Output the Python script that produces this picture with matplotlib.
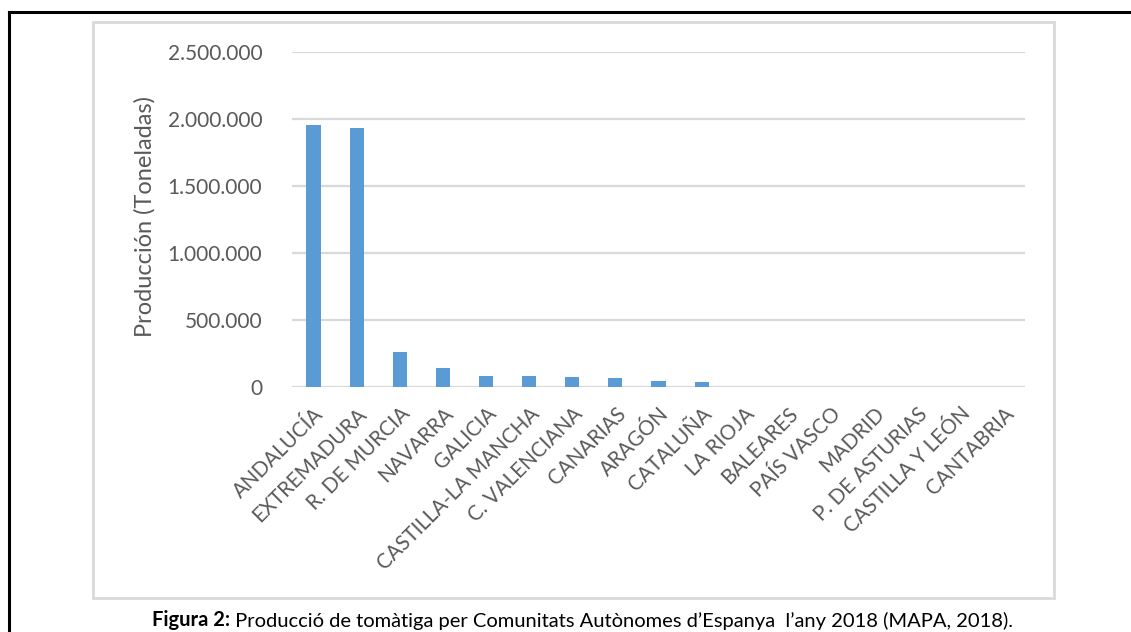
import matplotlib
matplotlib.use('Agg')
import matplotlib.pyplot as plt
from matplotlib.lines import Line2D
from matplotlib.patches import Rectangle
from matplotlib.ticker import FuncFormatter

comunidades = ['ANDALUCÍA', 'EXTREMADURA', 'R. DE MURCIA', 'NAVARRA', 'GALICIA',
               'CASTILLA-LA MANCHA', 'C. VALENCIANA', 'CANARIAS', 'ARAGÓN', 'CATALUÑA',
               'LA RIOJA', 'BALEARES', 'PAÍS VASCO', 'MADRID', 'P. DE ASTURIAS',
               'CASTILLA Y LEÓN', 'CANTABRIA']
produccion = [1955000, 1930000, 259000, 142000, 85000,
              84000, 75000, 65000, 47000, 37000,
              1500, 1200, 1000, 800, 300,
              200, 100]
y_ticks = [0, 500000, 1000000, 1500000, 2000000, 2500000]

W, H = 1131, 632
gris_texto = '#595959'
gris_linea = '#d9d9d9'

fig = plt.figure(figsize=(W / 100, H / 100), dpi=100)

def px(x, y):
    return x / W, 1 - y / H

# marco negro de la celda
fig.add_artist(Line2D([9 / W, 1], [1 - 12 / H] * 2, color='black', lw=2.2))
fig.add_artist(Line2D([9 / W] * 2, [1 - 12 / H, 0], color='black', lw=2.2))

# borde gris del gráfico
x0, y0 = px(93, 598)
x1, y1 = px(1054, 22)
fig.add_artist(Rectangle((x0, y0), x1 - x0, y1 - y0, transform=fig.transFigure,
                         fill=False, edgecolor=gris_linea, lw=2))

ax = fig.add_axes([292 / W, (H - 387) / H, 733 / W, 335 / H])
pos = range(len(comunidades))
ax.bar(pos, produccion, width=0.33, color='#5b9bd5', zorder=3)

ax.set_xlim(-0.5, len(comunidades) - 0.5)
ax.set_ylim(0, 2500000)
ax.set_yticks(y_ticks)
ax.yaxis.set_major_formatter(FuncFormatter(lambda v, p: f'{int(v):,}'.replace(',', '.')))
ax.grid(axis='y', color=gris_linea, lw=1.6, zorder=0)
for s in ax.spines.values():
    s.set_visible(False)
ax.tick_params(axis='both', length=0, colors=gris_texto)
ax.tick_params(axis='y', pad=21.5, labelsize=15)
for lab in ax.get_yticklabels():
    lab.set_family('Lato')

ax.set_xticks(list(pos))
ax.set_xticklabels(comunidades, rotation=45, ha='right', rotation_mode='anchor',
                   fontsize=14.8, family='Lato', color=gris_texto)
ax.tick_params(axis='x', pad=12)

ax.set_ylabel('Producción (Toneladas)', fontsize=17, family='Lato',
              color=gris_texto, va='center')
ax.yaxis.set_label_coords((145 - 292) / 733, (387 - 216.5) / 335)

# pie de figura
fam = ['Liberation Sans Narrow', 'Lato', 'DejaVu Sans']
t1 = fig.text(152 / W, 1 - 620 / H, 'Figura 2:', fontsize=14.5, weight='bold',
              family=fam, va='center', ha='left')
ax.annotate(' Producció de tomàtiga per Comunitats Autònomes d\u2019Espanya  l\u2019any 2018 (MAPA, 2018).',
            xy=(1, 0), xycoords=t1, va='bottom', ha='left',
            fontsize=14.5, family=fam, annotation_clip=False)

fig.savefig('out.png', dpi=100)
